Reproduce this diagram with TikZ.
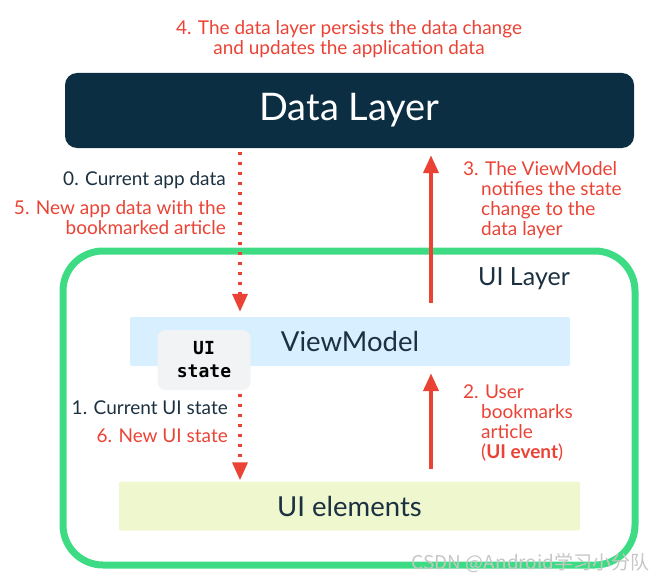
\documentclass[tikz,border=0pt]{standalone}
\usepackage{fontspec}
\setmainfont{Lato}
\setmonofont{DejaVu Sans Mono}
\newfontfamily\cjkfont{Noto Sans CJK SC}
\usetikzlibrary{arrows.meta,positioning}

\definecolor{navy}{HTML}{0B2E42}
\definecolor{inktext}{HTML}{1B3040}
\definecolor{gred}{HTML}{EA4335}
\definecolor{agreen}{HTML}{3DDC84}
\definecolor{vmblue}{HTML}{D7EFFE}
\definecolor{stategray}{HTML}{F1F3F4}
\definecolor{elgreen}{HTML}{EFF7CF}

\tikzset{
  layerbox/.style={rounded corners=12pt, fill=navy, text=white, minimum width=569pt, minimum height=75pt, font=\fontsize{38}{40}\selectfont},
  partbox/.style={rounded corners=2pt, text=inktext, minimum height=49pt, font=\fontsize{27.5}{30}\selectfont},
  statebox/.style={rounded corners=8pt, fill=stategray, minimum width=93pt, minimum height=60pt, align=center, font=\fontsize{18}{23}\selectfont\ttfamily\bfseries},
  note/.style={font=\fontsize{19}{20}\selectfont, inner sep=0pt},
  flowdown/.style={gred, line width=3.5pt, dash pattern=on 3pt off 7pt, -{Triangle[length=18pt,width=15pt]}},
  flowup/.style={gred, line width=4pt, -{Triangle[length=18pt,width=15pt]}}
}

\begin{document}
\begin{tikzpicture}[x=1pt,y=-1pt]
  \useasboundingbox (0,0) rectangle (666,583);

  % Layers
  \node[layerbox] (data) at (349.5,110.5) {Data Layer};
  \draw[agreen, line width=7pt, rounded corners=40pt] (63,251) rectangle (635,565);
  \node[text=inktext, font=\fontsize{25}{28}\selectfont] (uilayer) at (524,279) {UI Layer};

  \node[partbox, fill=vmblue, minimum width=440pt] (vm) at (350,341.5) {ViewModel};
  \node[partbox, fill=elgreen, minimum width=461pt] (elements) at (349.5,506) {UI elements};
  \node[statebox] (state) at (204,360) {UI\\state};

  % Arrows
  \coordinate (leftx) at (240,0);
  \coordinate (rightx) at (431,0);
  \draw[flowdown, shorten <=4pt, shorten >=5pt] (data.south -| leftx) -- (vm.north -| leftx);
  \draw[flowup, shorten <=14pt, shorten >=7pt] (vm.north -| rightx) -- (data.south -| rightx);
  \draw[flowdown, shorten <=4pt, shorten >=1pt] (state.south -| leftx) -- (elements.north -| leftx);
  \draw[flowup, shorten <=12pt, shorten >=7pt] (elements.north -| rightx) -- (vm.south -| rightx);

  % Notes
  \node[note, text=gred, align=center] (persist) at (349,39) {4. The data layer persists the data change\\and updates the application data};
  \node[note, text=inktext, anchor=east] (appdata) at (226,180) {0. Current app data};
  \node[note, text=gred, align=right, anchor=north east] (newdata) at (226,200) {5. New app data with the\\bookmarked article};
  \node[note, text=gred, align=left, anchor=north west] (notify) at (463,161) {3. The ViewModel\\\hspace*{18pt}notifies the state\\\hspace*{18pt}change to the\\\hspace*{18pt}data layer};
  \node[note, text=inktext, anchor=east] (curstate) at (228,408) {1. Current UI state};
  \node[note, text=gred, anchor=east] (newstate) at (228,436) {6. New UI state};
  \node[note, text=gred, align=left, anchor=north west] (event) at (463,385) {2. User\\\hspace*{18pt}bookmarks\\\hspace*{18pt}article\\\hspace*{18pt}(\textbf{UI event})};

  \node[text=gray!45, font=\fontsize{19}{22}\selectfont\cjkfont, anchor=east] (mark) at (653,563) {CSDN @Android学习小分队};
\end{tikzpicture}
\end{document}
